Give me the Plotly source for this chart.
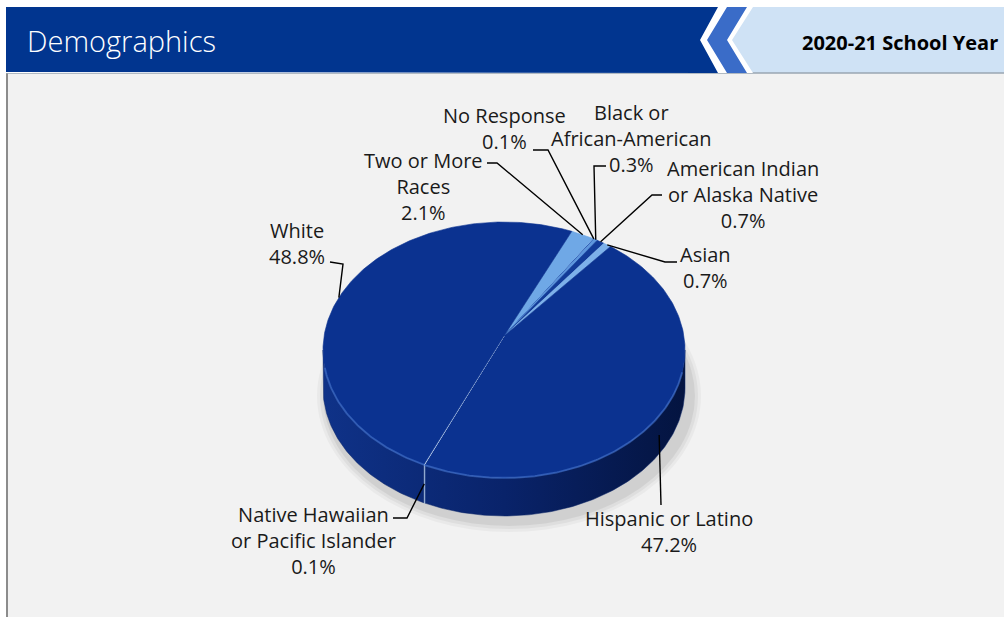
import math
import plotly.graph_objects as go

# ---------------- data ----------------
categories = [
    "Two or More Races",
    "No Response",
    "Black or African-American",
    "American Indian or Alaska Native",
    "Asian",
    "Hispanic or Latino",
    "Native Hawaiian or Pacific Islander",
    "White",
]
percentages = [2.1, 0.1, 0.3, 0.7, 0.7, 47.2, 0.1, 48.8]
label_names = [
    "Two or More<br>Races",
    "No Response",
    "Black or<br>African-American",
    "American Indian<br>or Alaska Native",
    "Asian",
    "Hispanic or Latino",
    "Native Hawaiian<br>or Pacific Islander",
    "White",
]
title_text = "Demographics"
year_text = "2020-21 School Year"

# ---------------- styles / layout ----------------
top_colors = ["#6FA8E6", "#1D46A3", "#5E97DD", "#123B98", "#7DB1EA", "#0B3290", "#C9DDF4", "#0B3290"]
side_dark = ["#3E78C8", "#0E2F80", "#3A73C4", "#0C2C7C", "#4A82D0", None, "#A9C4E6", None]

W, H = 1004, 617
CX, CY, RX, RY = 504, 350, 181, 128
DEPTH = 38
APEX_DY = -14
START = 22.0

# label block centre and leader elbow points (pixels)
label_pos = {
    "Two or More Races": (423, 186.5, [(487, 163), (497, 163)]),
    "No Response": (504, 128.5, [(533, 150), (548, 150)]),
    "Black or African-American": (631, 138, [(606, 166), (594, 166)]),
    "American Indian or Alaska Native": (743, 194.5, [(662, 195), (652, 195)]),
    "Asian": (705, 267.5, [(677, 262), (665, 262)]),
    "Hispanic or Latino": (669, 531, [(661, 505)]),
    "Native Hawaiian or Pacific Islander": (313, 540, [(393, 518), (407, 518)]),
    "White": (297, 243.5, [(330, 262), (343, 264)]),
}

FONT = "Segoe UI, Open Sans, Noto Sans, sans-serif"


def ell(a_deg, dy=0.0):
    a = math.radians(a_deg)
    return CX + RX * math.sin(a), CY - RY * math.cos(a) + dy


def arc(a0, a1, dy=0.0):
    n = max(3, int(abs(a1 - a0) / 0.8) + 2)
    xs, ys = [], []
    for i in range(n):
        a = a0 + (a1 - a0) * i / (n - 1)
        x, y = ell(a, dy)
        xs.append(x)
        ys.append(y)
    return xs, ys


# angles from data
total = sum(percentages)
angles = []
acc = START
for v in percentages:
    a0 = acc
    a1 = acc + v / total * 360.0
    angles.append((a0, a1))
    acc = a1

fig = go.Figure()

# ---- side walls (front facing) ----
for i, (a0, a1) in enumerate(angles):
    for base in (90.0, 450.0):
        lo, hi = max(a0, base), min(a1, base + 180.0)
        if lo >= hi:
            continue
        tx, ty = arc(lo, hi)
        bx, by = arc(hi, lo, DEPTH)
        xs = tx + bx + [tx[0]]
        ys = ty + by + [ty[0]]
        if side_dark[i] is None:
            fig.add_trace(go.Scatter(
                x=xs, y=ys, mode="lines", fill="toself",
                line=dict(width=0.5, color="#0A2466"),
                fillgradient=dict(type="horizontal",
                                  colorscale=[[0, "#0F3288"], [0.5, "#09236A"], [1, "#041440"]],
                                  start=CX - RX, stop=CX + RX),
                hoverinfo="skip", showlegend=False))
        else:
            fig.add_trace(go.Scatter(
                x=xs, y=ys, mode="lines", fill="toself",
                line=dict(width=0.8, color=side_dark[i]), fillcolor=side_dark[i],
                hoverinfo="skip", showlegend=False))

# ---- top faces ----
for i, (a0, a1) in enumerate(angles):
    ax, ay = CX, CY + APEX_DY
    tx, ty = arc(a0, a1)
    xs = [ax] + tx + [ax]
    ys = [ay] + ty + [ay]
    lw = 1.0 if percentages[i] < 0.5 else 0.6
    fig.add_trace(go.Scatter(
        x=xs, y=ys, mode="lines", fill="toself",
        line=dict(width=lw, color=top_colors[i]), fillcolor=top_colors[i],
        name=categories[i], text=f"{categories[i]}: {percentages[i]:.1f}%",
        hoverinfo="text", showlegend=False))

# subtle rim highlight on front edge
hx, hy = arc(100, 262)
fig.add_trace(go.Scatter(x=hx, y=hy, mode="lines",
                         line=dict(width=2, color="rgba(80,130,220,0.5)"),
                         hoverinfo="skip", showlegend=False))

# ---- leader lines and labels ----
annotations = []
for i, cat in enumerate(categories):
    lx, ly, pts = label_pos[cat]
    a0, a1 = angles[i]
    mid = (a0 + a1) / 2
    if 90.0 < (mid % 360) < 270.0:
        ex, ey = ell(mid, DEPTH * 0.5)
    else:
        ex, ey = ell(mid)
    xs = [p[0] for p in pts] + [ex]
    ys = [p[1] for p in pts] + [ey]
    fig.add_trace(go.Scatter(x=xs, y=ys, mode="lines",
                             line=dict(width=1.4, color="#000000"),
                             hoverinfo="skip", showlegend=False))
    annotations.append(dict(
        x=lx, y=ly, xref="x", yref="y", showarrow=False,
        text=f"{label_names[i]}<br>{percentages[i]:.1f}%",
        align="center", xanchor="center", yanchor="middle",
        font=dict(family=FONT, size=20, color="#1A1A1A")))

# header texts
annotations.append(dict(x=25, y=40, xref="x", yref="y", showarrow=False,
                        text=title_text, xanchor="left", yanchor="middle",
                        font=dict(family=FONT, size=29, color="#FFFFFF", weight=300)))
annotations.append(dict(x=800, y=42, xref="x", yref="y", showarrow=False,
                        text=f"<b>{year_text}</b>", xanchor="left", yanchor="middle",
                        font=dict(family=FONT, size=20, color="#000000")))


def poly(points):
    return "M " + " L ".join(f"{x},{y}" for x, y in points) + " Z"


shapes = [
    # content panel
    dict(type="rect", xref="x", yref="y", x0=6, x1=W, y0=73, y1=H,
         fillcolor="#F2F2F2", line=dict(width=0), layer="below"),
    dict(type="line", xref="x", yref="y", x0=7, x1=7, y0=73, y1=H,
         line=dict(color="#8C8C8C", width=2), layer="below"),
    # header
    dict(type="rect", xref="x", yref="y", x0=6, x1=W, y0=7, y1=73,
         fillcolor="#CFE2F5", line=dict(width=0), layer="below"),
    dict(type="line", xref="x", yref="y", x0=6, x1=W, y0=73, y1=73,
         line=dict(color="#9AA6B2", width=1.5), layer="below"),
    dict(type="path", xref="x", yref="y",
         path=poly([(6, 7), (753, 7), (732, 40), (753, 73), (6, 73)]),
         fillcolor="#FFFFFF", line=dict(width=0), layer="below"),
    dict(type="path", xref="x", yref="y",
         path=poly([(6, 7), (747, 7), (727, 40), (747, 73), (6, 73)]),
         fillcolor="#3A6CC8", line=dict(width=0), layer="below"),
    dict(type="path", xref="x", yref="y",
         path=poly([(6, 7), (727, 7), (707, 40), (727, 73), (6, 73)]),
         fillcolor="#FFFFFF", line=dict(width=0), layer="below"),
    dict(type="path", xref="x", yref="y",
         path=poly([(6, 7), (718, 7), (700, 40), (718, 73), (6, 72)]),
         fillcolor="#01358F", line=dict(width=0), layer="below"),
]
# soft shadow under the pie
for k, alpha in enumerate([0.035, 0.045, 0.06]):
    g = 10 - 3 * k
    shapes.append(dict(type="circle", xref="x", yref="y",
                       x0=CX - RX - g + 4, x1=CX + RX + g + 6,
                       y0=CY - RY + DEPTH - g + 10, y1=CY + RY + DEPTH + g + 6,
                       fillcolor=f"rgba(0,0,0,{alpha})", line=dict(width=0), layer="below"))

fig.update_layout(
    width=W, height=H,
    margin=dict(l=0, r=0, t=0, b=0),
    paper_bgcolor="#FFFFFF", plot_bgcolor="rgba(0,0,0,0)",
    xaxis=dict(range=[0, W], visible=False, fixedrange=True),
    yaxis=dict(range=[H, 0], visible=False, fixedrange=True),
    shapes=shapes, annotations=annotations, showlegend=False,
)

fig.write_html("out.html")
